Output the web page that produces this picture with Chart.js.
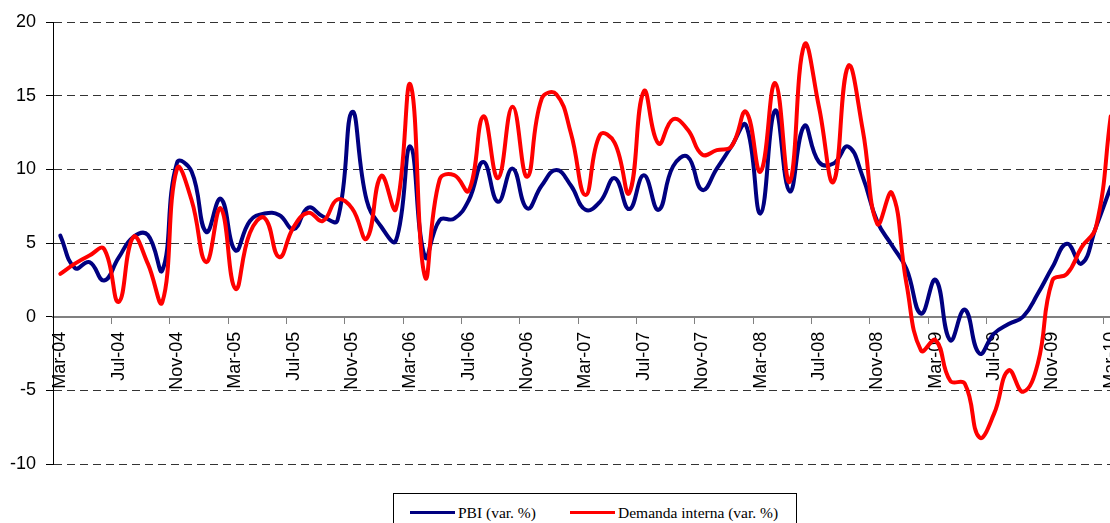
<!DOCTYPE html>
<html>
<head>
<meta charset="utf-8">
<title>PBI y Demanda interna</title>
<script src="https://cdn.jsdelivr.net/npm/chart.js@4.4.0/dist/chart.umd.min.js"></script>
<style>
  html, body { margin: 0; padding: 0; background: #fff; overflow: hidden; }
  #wrap { position: absolute; left: 0; top: 0; width: 1118px; height: 523px; }
  #legend {
    position: absolute; left: 393px; top: 493px; width: 404px; height: 40px;
    border: 1px solid #000; box-sizing: border-box; background: #fff;
    font-family: "Liberation Serif", "Times New Roman", serif; font-size: 15.5px; color: #000;
  }
  .item { position: absolute; top: 10px; line-height: 18px; white-space: nowrap; }
  .item i { display: inline-block; width: 45px; height: 3px; vertical-align: middle; margin-right: 3px; position: relative; top: -2px; }
</style>
</head>
<body>
<div id="wrap"><canvas id="chart"></canvas></div>
<div id="legend">
  <div class="item" style="left:16px"><i style="background:#000080"></i>PBI (var. %)</div>
  <div class="item" style="left:176px"><i style="background:#ff0000"></i>Demanda interna (var. %)</div>
</div>
<script>
// monthly categories, Mar-04 .. Mar-10
const months = [
  'Mar-04', 'Apr-04', 'May-04', 'Jun-04', 'Jul-04', 'Aug-04', 'Sep-04', 'Oct-04', 'Nov-04', 'Dec-04',
  'Jan-05', 'Feb-05', 'Mar-05', 'Apr-05', 'May-05', 'Jun-05', 'Jul-05', 'Aug-05', 'Sep-05', 'Oct-05', 'Nov-05', 'Dec-05',
  'Jan-06', 'Feb-06', 'Mar-06', 'Apr-06', 'May-06', 'Jun-06', 'Jul-06', 'Aug-06', 'Sep-06', 'Oct-06', 'Nov-06', 'Dec-06',
  'Jan-07', 'Feb-07', 'Mar-07', 'Apr-07', 'May-07', 'Jun-07', 'Jul-07', 'Aug-07', 'Sep-07', 'Oct-07', 'Nov-07', 'Dec-07',
  'Jan-08', 'Feb-08', 'Mar-08', 'Apr-08', 'May-08', 'Jun-08', 'Jul-08', 'Aug-08', 'Sep-08', 'Oct-08', 'Nov-08', 'Dec-08',
  'Jan-09', 'Feb-09', 'Mar-09', 'Apr-09', 'May-09', 'Jun-09', 'Jul-09', 'Aug-09', 'Sep-09', 'Oct-09', 'Nov-09', 'Dec-09',
  'Jan-10', 'Feb-10', 'Mar-10'
];

// PBI (var. %)
const pbi = [
  5.5, 3.3, 3.7, 2.45, 4.0, 5.4, 5.55, 3.15, 10.45, 9.85,
  5.75, 8.0, 4.5, 6.5, 7.0, 6.9, 5.95, 7.4, 6.8, 6.55, 13.9, 7.9,
  6.1, 5.15, 11.55, 4.05, 6.55, 6.65, 7.9, 10.5, 7.8, 10.05, 7.35, 8.9,
  9.95, 8.9, 7.25, 7.8, 9.4, 7.3, 9.6, 7.25, 10.2, 10.85, 8.6, 10.05,
  11.55, 13.0, 7.0, 14.0, 8.5, 12.95, 10.5, 10.4, 11.55, 9.5, 6.45, 4.85,
  3.25, 0.2, 2.5, -1.6, 0.48, -2.5, -1.15, -0.5, 0.0, 1.55, 3.35, 4.95,
  3.6, 6.1, 8.8
];

// Demanda interna (var. %)
const demanda = [
  2.9, 3.6, 4.15, 4.6, 1.0, 5.4, 3.6, 1.0, 10.05, 7.9,
  3.7, 7.35, 1.9, 5.7, 6.7, 4.05, 6.1, 7.05, 6.5, 7.95, 7.35, 5.3,
  9.55, 7.3, 15.75, 2.7, 9.3, 9.6, 8.55, 13.6, 9.4, 14.25, 9.5, 14.8,
  15.1, 12.45, 8.25, 12.35, 11.8, 8.4, 15.3, 11.75, 13.4, 12.7, 11.0, 11.3,
  11.55, 13.9, 9.85, 15.85, 9.15, 18.45, 14.25, 9.15, 17.0, 12.7, 6.3, 8.4,
  2.25, -2.3, -1.6, -4.35, -4.55, -8.2, -6.6, -3.65, -5.1, -3.2, 2.45, 2.9,
  4.7, 6.1, 13.6
];

const axisFont = { family: '"Liberation Sans", Arial, sans-serif', size: 18 };

new Chart(document.getElementById('chart'), {
  type: 'line',
  data: {
    labels: months,
    datasets: [
      {
        label: 'PBI (var. %)', data: pbi, borderColor: '#000080', borderWidth: 4,
        pointRadius: 0, tension: 0.45, fill: false, order: 1,
        borderCapStyle: 'round', borderJoinStyle: 'round'
      },
      {
        label: 'Demanda interna (var. %)', data: demanda, borderColor: '#ff0000', borderWidth: 4,
        pointRadius: 0, tension: 0.45, fill: false, order: 0,
        borderCapStyle: 'round', borderJoinStyle: 'round'
      }
    ]
  },
  options: {
    responsive: true,
    maintainAspectRatio: false,
    animation: false,
    layout: { padding: { top: 22, bottom: 59, left: 0, right: 0 } },
    plugins: { legend: { display: false }, tooltip: { enabled: false } },
    scales: {
      x: {
        position: { y: 0 },
        offset: true,
        // the last label is cut by the window edge in the original, so no room is kept for it
        afterFit: s => { s.paddingLeft = 0; s.paddingRight = 0; },
        grid: {
          offset: true,
          drawOnChartArea: false,
          drawTicks: true,
          tickLength: 6,
          tickColor: ctx => ctx.index % 4 === 0 ? '#808080' : 'rgba(0,0,0,0)'
        },
        border: { display: true, color: '#808080', width: 2 },
        ticks: {
          autoSkip: false, minRotation: 90, maxRotation: 90, padding: 9,
          color: '#000', font: axisFont,
          callback: (v, i) => i % 4 === 0 ? months[i] : ''
        }
      },
      y: {
        min: -10, max: 20,
        afterFit: s => { s.width = 53; },
        ticks: { stepSize: 5, padding: 10, color: '#000', font: axisFont },
        grid: {
          color: ctx => ctx.tick && ctx.tick.value === 0 ? 'rgba(0,0,0,0)' : '#333',
          tickColor: '#000',
          tickLength: 7,
          tickBorderDash: []
        },
        border: { display: true, color: '#000', width: 1, dash: [8, 5] }
      }
    }
  }
});
</script>
</body>
</html>
